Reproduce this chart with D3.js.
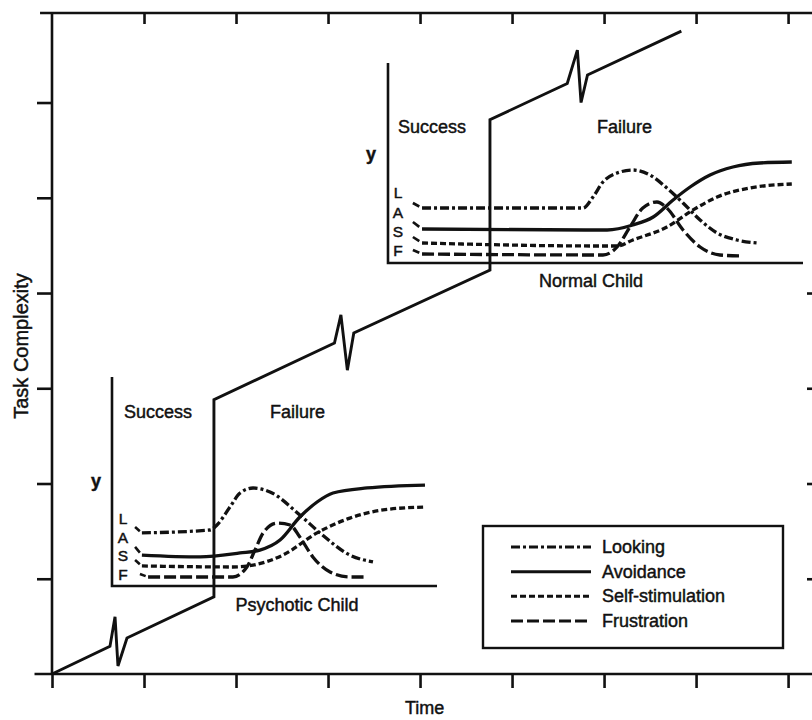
<!DOCTYPE html>
<html>
<head>
<meta charset="utf-8">
<script src="https://cdn.jsdelivr.net/npm/d3@7"></script>
<style>
  body { margin: 0; background: #fff; }
  svg { display: block; }
  text { font-family: "Liberation Sans", Arial, sans-serif; fill: #111; stroke: #111; stroke-width: 0.45; }
</style>
</head>
<body>
<div id="chart"></div>
<script>
// ---- data ----
const timeTicks = [0, 1, 2, 3, 4, 5, 6, 7, 8];
const complexityTicks = [0, 1, 2, 3, 4, 5, 6];
const rightTicks = [1, 2, 3, 4];

// task complexity staircase (time, complexity)
const stepTime  = [0, 0.63, 0.685, 0.717, 0.815, 1.76, 1.76, 3.07, 3.14, 3.21, 3.28, 4.76, 4.76, 5.60, 5.71, 5.75, 5.82, 6.84];
const stepLevel = [0, 0.29, 0.60, 0.084, 0.378, 0.81, 2.88, 3.475, 3.77, 3.19, 3.58, 4.24, 5.82, 6.20, 6.55, 6.00, 6.29, 6.75];

const seriesNames = ["Looking", "Avoidance", "Self-stimulation", "Frustration"];
const seriesKeys = ["L", "A", "S", "F"];

// inset curves, [time, response] on a 0-100 scale of each inset
const psychLooking = [[7.1, 28.2], [9.2, 25.4], [30.2, 26.8], [32.3, 29.2], [36.3, 37.8], [39.4, 44.5], [43.4, 46.9],
  [48.6, 45.0], [57.8, 34.0], [64.0, 25.4], [73.2, 14.8], [80.3, 11.5]];
const psychAvoidance = [[7.1, 18.7], [9.2, 14.8], [27.1, 13.9], [39.4, 15.8], [45.5, 17.2], [51.7, 22.0], [57.8, 33.0],
  [63.1, 40.2], [68.0, 44.5], [78.5, 46.9], [96.3, 48.3]];
const psychSelfStim = [[7.1, 12.4], [9.2, 9.6], [37.2, 9.1], [43.4, 10.0], [52.6, 14.8], [63.1, 25.4], [73.2, 32.5],
  [83.4, 36.4], [96.3, 37.8]];
const psychFrustration = [[8.6, 5.7], [11.1, 4.3], [37.2, 4.3], [41.5, 9.1], [44.0, 17.2], [46.5, 25.4], [50.8, 30.1],
  [54.8, 29.2], [57.8, 23.4], [61.8, 13.9], [67.1, 6.7], [73.2, 4.3], [78.5, 4.3]];

const normalLooking = [[6.0, 30.0], [8.2, 27.5], [47.0, 27.5], [49.4, 33.0], [51.8, 40.5], [55.2, 45.0], [59.0, 46.5],
  [63.1, 44.0], [67.2, 37.5], [71.1, 30.0], [75.2, 21.5], [79.3, 15.0], [84.1, 11.5], [89.2, 10.0]];
const normalAvoidance = [[6.0, 20.5], [8.2, 17.0], [52.8, 16.5], [59.0, 19.0], [63.9, 23.0], [68.7, 31.5], [72.8, 38.0],
  [77.6, 44.0], [83.1, 48.0], [89.6, 50.0], [97.3, 50.5]];
const normalSelfStim = [[6.0, 13.0], [8.2, 10.0], [51.1, 8.5], [55.2, 8.5], [59.0, 11.5], [67.2, 18.0], [73.5, 26.5],
  [79.3, 33.0], [87.2, 37.5], [97.3, 39.5]];
const normalFrustration = [[6.0, 6.5], [8.2, 4.5], [51.8, 4.0], [55.2, 8.0], [58.3, 18.0], [61.4, 27.5], [64.8, 30.5],
  [67.2, 27.5], [71.1, 16.5], [75.2, 8.0], [80.0, 4.0], [85.5, 3.5]];

// ---- layout ----
const width = 812, height = 720;
const ink = "#111";
const dashes = ["9,3,3,3", null, "6,3", "12,4"];

const svg = d3.select("#chart").append("svg")
  .attr("width", width)
  .attr("height", height)
  .attr("viewBox", [0, 0, width, height]);

svg.append("rect").attr("width", width).attr("height", height).attr("fill", "#fff");

const x = d3.scaleLinear([0, 8.26], [52, 812]);
const y = d3.scaleLinear([0, 6.94], [674, 13]);

// frame lines
const frame = svg.append("g").attr("stroke", ink).attr("stroke-width", 2.6).attr("fill", "none");
frame.append("line").attr("x1", x(-0.19)).attr("x2", x(8.26)).attr("y1", y(0)).attr("y2", y(0));
frame.append("line").attr("x1", x(0)).attr("x2", x(0)).attr("y1", y(0)).attr("y2", y(6.94));
frame.append("line").attr("x1", x(-0.13)).attr("x2", x(8.26)).attr("y1", y(6.94)).attr("y2", y(6.94));

// axes ticks
svg.append("g")
  .attr("transform", `translate(0,${y(0)})`)
  .call(d3.axisBottom(x).tickValues(timeTicks).tickSize(14).tickSizeOuter(0).tickFormat(""))
  .call(g => g.select(".domain").remove())
  .call(g => g.selectAll(".tick line").attr("stroke", ink).attr("stroke-width", 2.6));

svg.append("g")
  .attr("transform", `translate(0,${y(6.94)})`)
  .call(d3.axisTop(x).tickValues(timeTicks.slice(1)).tickSize(-11).tickSizeOuter(0).tickFormat(""))
  .call(g => g.select(".domain").remove())
  .call(g => g.selectAll(".tick line").attr("stroke", ink).attr("stroke-width", 2.6));

svg.append("g")
  .attr("transform", `translate(${x(0)},0)`)
  .call(d3.axisLeft(y).tickValues(complexityTicks.slice(1)).tickSize(15).tickSizeOuter(0).tickFormat(""))
  .call(g => g.select(".domain").remove())
  .call(g => g.selectAll(".tick line").attr("stroke", ink).attr("stroke-width", 2.6));

svg.append("g")
  .attr("transform", `translate(${width},0)`)
  .call(d3.axisRight(y).tickValues(rightTicks).tickSize(-5).tickSizeOuter(0).tickFormat(""))
  .call(g => g.select(".domain").remove())
  .call(g => g.selectAll(".tick line").attr("stroke", ink).attr("stroke-width", 2.6));

// axis titles
svg.append("text")
  .attr("x", x(4.05)).attr("y", 714)
  .attr("text-anchor", "middle")
  .attr("font-size", 18)
  .text("Time");

svg.append("text")
  .attr("transform", `translate(28,346) rotate(-90)`)
  .attr("text-anchor", "middle")
  .attr("font-size", 20)
  .text("Task Complexity");

// ---- insets ----
function drawInset(box, curves, opts) {
  const ix = d3.scaleLinear([0, 100], [box.left, box.right]);
  const iy = d3.scaleLinear([0, 100], [box.bottom, box.top]);
  const g = svg.append("g");

  g.append("path")
    .attr("fill", "none")
    .attr("stroke", ink)
    .attr("stroke-width", 2.6)
    .attr("d", `M${ix(0)},${iy(100)}V${iy(0)}H${ix(100)}`);

  const line = d3.line()
    .curve(d3.curveMonotoneX)
    .x(d => ix(d[0]))
    .y(d => iy(d[1]));

  curves.forEach((c, i) => {
    // short slanted lead-in dash from the key letter
    const [a, b] = c;
    g.append("line")
      .attr("stroke", ink)
      .attr("stroke-width", 2.6)
      .attr("x1", ix(a[0])).attr("y1", iy(a[1]))
      .attr("x2", ix(a[0] + (b[0] - a[0]) * 0.7)).attr("y2", iy(a[1] + (b[1] - a[1]) * 0.7));
    g.append("path")
      .attr("fill", "none")
      .attr("stroke", ink)
      .attr("stroke-width", 3.3)
      .attr("stroke-dasharray", dashes[i])
      .attr("d", line(c.slice(1)));
  });

  const t = g.append("g");
  t.append("text").attr("x", opts.success[0]).attr("y", opts.success[1]).attr("font-size", 18).text("Success");
  t.append("text").attr("x", opts.failure[0]).attr("y", opts.failure[1]).attr("font-size", 18).text("Failure");
  t.append("text").attr("x", opts.yLab[0]).attr("y", opts.yLab[1]).attr("font-size", 18)
    .attr("text-anchor", "middle").attr("font-weight", "bold").text("y");
  seriesKeys.forEach((k, i) => {
    t.append("text").attr("x", opts.keyX).attr("y", opts.keyY[i]).attr("font-size", opts.keySize)
      .attr("text-anchor", "middle").text(k);
  });
  t.append("text").attr("x", opts.title[0]).attr("y", opts.title[1]).attr("font-size", 18)
    .attr("text-anchor", "middle").text(opts.name);
}

drawInset(
  { left: 112, right: 437, top: 377, bottom: 586 },
  [psychLooking, psychAvoidance, psychSelfStim, psychFrustration],
  { success: [124, 418], failure: [270, 418], yLab: [96, 487], keyX: 123, keyY: [524, 542.5, 561, 580], keySize: 15.5,
    title: [297, 611], name: "Psychotic Child" }
);

drawInset(
  { left: 388, right: 803, top: 63, bottom: 263 },
  [normalLooking, normalAvoidance, normalSelfStim, normalFrustration],
  { success: [398, 133], failure: [597, 133], yLab: [371, 160], keyX: 398, keyY: [198, 218, 237, 256], keySize: 15.5,
    title: [591, 287], name: "Normal Child" }
);

// staircase
const stepLine = d3.line().x(d => x(d[0])).y(d => y(d[1]));
svg.append("path")
  .attr("fill", "none")
  .attr("stroke", ink)
  .attr("stroke-width", 2.9)
  .attr("stroke-linejoin", "miter")
  .attr("d", stepLine(stepTime.map((t, i) => [t, stepLevel[i]])));

// ---- legend ----
const legend = svg.append("g");
legend.append("rect")
  .attr("x", 483).attr("y", 526).attr("width", 300).attr("height", 122)
  .attr("fill", "#fff").attr("stroke", ink).attr("stroke-width", 2.4);

const legendY = d3.scalePoint(seriesNames, [547, 621]);
seriesNames.forEach((name, i) => {
  legend.append("line")
    .attr("x1", 511).attr("x2", 591)
    .attr("y1", legendY(name)).attr("y2", legendY(name))
    .attr("stroke", ink).attr("stroke-width", 3)
    .attr("stroke-dasharray", dashes[i]);
  legend.append("text")
    .attr("x", 602).attr("y", legendY(name) + 6)
    .attr("font-size", 18)
    .text(name);
});
</script>
</body>
</html>
